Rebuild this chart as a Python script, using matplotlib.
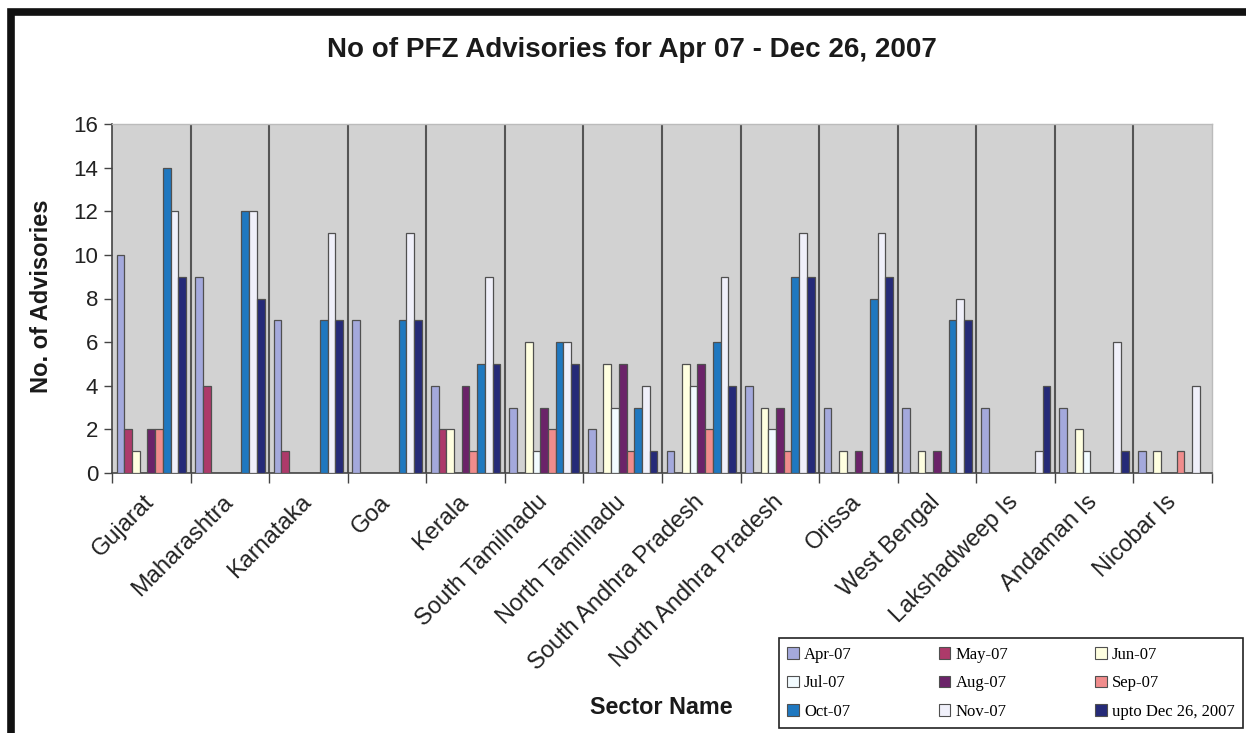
import matplotlib
matplotlib.use("Agg")
import matplotlib.pyplot as plt
import matplotlib.transforms as mtransforms
import numpy as np
from matplotlib.patches import Rectangle, Patch

sectors = ["Gujarat", "Maharashtra", "Karnataka", "Goa", "Kerala",
           "South Tamilnadu", "North Tamilnadu", "South Andhra Pradesh",
           "North Andhra Pradesh", "Orissa", "West Bengal", "Lakshadweep Is",
           "Andaman Is", "Nicobar Is"]

series_names = ["Apr-07", "May-07", "Jun-07", "Jul-07", "Aug-07", "Sep-07",
                "Oct-07", "Nov-07", "upto Dec 26, 2007"]

apr = [10, 9, 7, 7, 4, 3, 2, 1, 4, 3, 3, 3, 3, 1]
may = [2, 4, 1, 0, 2, 0, 0, 0, 0, 0, 0, 0, 0, 0]
jun = [1, 0, 0, 0, 2, 6, 5, 5, 3, 1, 1, 0, 2, 1]
jul = [0, 0, 0, 0, 0, 1, 3, 4, 2, 0, 0, 0, 1, 0]
aug = [2, 0, 0, 0, 4, 3, 5, 5, 3, 1, 1, 0, 0, 0]
sep = [2, 0, 0, 0, 1, 2, 1, 2, 1, 0, 0, 0, 0, 1]
octo = [14, 12, 7, 7, 5, 6, 3, 6, 9, 8, 7, 0, 0, 0]
nov = [12, 12, 11, 11, 9, 6, 4, 9, 11, 11, 8, 1, 6, 4]
dec = [9, 8, 7, 7, 5, 5, 1, 4, 9, 9, 7, 4, 1, 0]

series = [apr, may, jun, jul, aug, sep, octo, nov, dec]
colors = ["#a4a9dc", "#ad3a6a", "#ffffe0", "#f2fbff", "#6b2369",
          "#f08c8c", "#1f78c0", "#f0f0fa", "#252a78"]

fig = plt.figure(figsize=(12.46, 7.33), dpi=100)
ax = fig.add_axes([112 / 1246, 1 - 473 / 733, 1100 / 1246, 349 / 733])
ax.set_facecolor("#d2d2d2")

x = np.arange(len(sectors))
w = 0.098
for i, (vals, c) in enumerate(zip(series, colors)):
    ax.bar(x + (i - 4) * w, vals, width=w, color=c, edgecolor="#505050",
           linewidth=0.9, zorder=3)

# category separators
for b in np.arange(0.5, len(sectors) - 0.5, 1):
    ax.axvline(b, color="#555555", lw=1.5, zorder=1)

ax.set_xlim(-0.5, len(sectors) - 0.5)
ax.set_ylim(0, 16)
ax.set_yticks(range(0, 17, 2))
ax.tick_params(axis="y", labelsize=16, length=6, width=1, color="#444444",
               labelcolor="#222222", pad=4)

ax.set_xticks(x)
ax.set_xticklabels(sectors, rotation=45, ha="right", va="top",
                   rotation_mode="anchor", fontsize=17, color="#222222")
ax.tick_params(axis="x", length=0, pad=13)
ax.set_xticks(np.arange(-0.5, len(sectors), 1), minor=True)
ax.tick_params(axis="x", which="minor", length=7, width=1, color="#444444")

shift = mtransforms.ScaledTranslation(-8 / 100, 0, fig.dpi_scale_trans)
for t in ax.get_xticklabels():
    t.set_transform(t.get_transform() + shift)

for s in ["top", "right"]:
    ax.spines[s].set_color("#bbbbbb")
    ax.spines[s].set_linewidth(1)
for s in ["left", "bottom"]:
    ax.spines[s].set_color("#444444")
    ax.spines[s].set_linewidth(1.2)

fig.text(0.507, 1 - 50 / 733, "No of PFZ Advisories for Apr 07 - Dec 26, 2007",
         ha="center", va="center", fontsize=20, fontweight="bold",
         family="Liberation Sans", color="#1a1a1a")
fig.text(42 / 1246, 1 - 296 / 733, "No. of Advisories", rotation=90,
         ha="center", va="center", fontsize=17, fontweight="bold",
         family="Liberation Sans", color="#1a1a1a")
fig.text(661 / 1246, 1 - 708 / 733, "Sector Name", ha="center", va="center",
         fontsize=16.8, fontweight="bold", family="Liberation Sans",
         color="#1a1a1a")

for t in ax.get_xticklabels() + ax.get_yticklabels():
    t.set_family("Liberation Sans")

# legend, row-wise order as in the original
handles = [Patch(facecolor=c, edgecolor="#505050", linewidth=0.8)
           for c in colors]
order = [0, 3, 6, 1, 4, 7, 2, 5, 8]
leg = fig.legend([handles[k] for k in order], [series_names[k] for k in order],
                 ncol=3, loc="lower left", mode="expand",
                 bbox_to_anchor=(779 / 1246, 5 / 733, 464 / 1246, 93 / 733),
                 prop={"family": "Liberation Serif", "size": 12},
                 handlelength=0.7, handleheight=0.7, handletextpad=0.3,
                 labelspacing=0.75, borderpad=0.5, borderaxespad=0,
                 fancybox=False, framealpha=1, edgecolor="#222222")
leg.get_frame().set_linewidth(1.2)

# outer frame
fig.patches.append(Rectangle((11 / 1246, -0.05), 1.2, 1.05 - 12 / 733,
                             transform=fig.transFigure, fill=False,
                             edgecolor="#111111", linewidth=5.5, zorder=10))

fig.savefig("out.png", dpi=100)
